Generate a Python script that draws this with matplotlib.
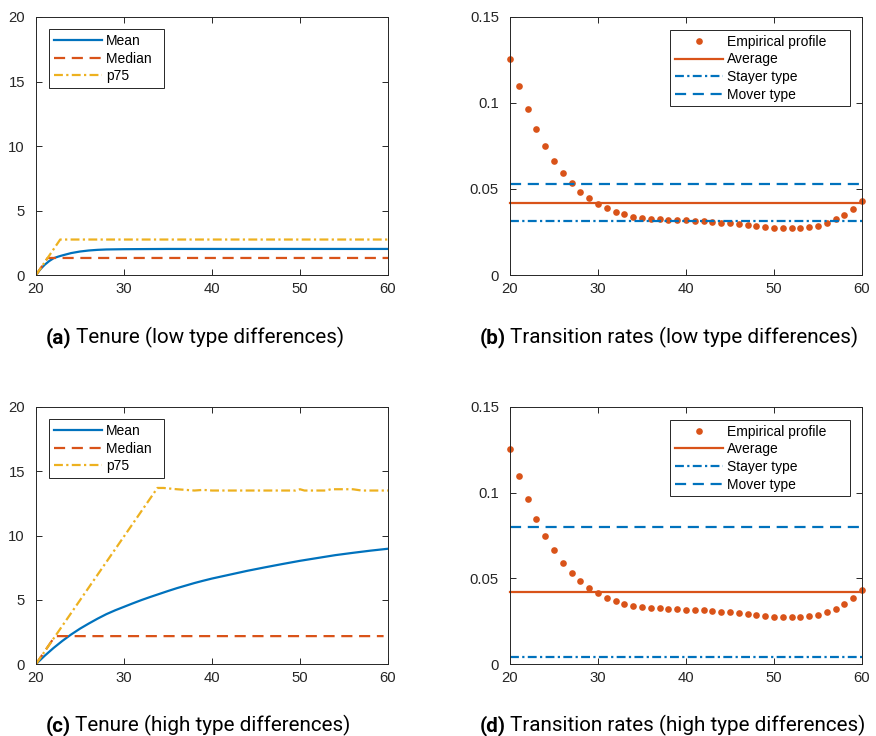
import matplotlib
matplotlib.use("Agg")
import matplotlib.pyplot as plt

# MATLAB default line colours
BLUE = "#0072BD"
ORANGE = "#D95319"
YELLOW = "#EDB120"
AXCOL = "#262626"

plt.rcParams["font.family"] = ["Liberation Sans", "DejaVu Sans"]
plt.rcParams["font.size"] = 10

# ---- tenure, low type differences ----
mean_lo_age = [20, 20.5, 21, 21.5, 22, 22.5, 23, 24, 25, 26, 27, 28, 30, 35, 40, 60]
mean_lo = [0, 0.45, 0.8, 1.08, 1.3, 1.42, 1.52, 1.7, 1.82, 1.9, 1.95, 1.98, 2.0, 2.02, 2.02, 2.02]
median_lo_age = [20, 21.32, 60]
median_lo = [0, 1.32, 1.32]
p75_lo_age = [20, 22.75, 60]
p75_lo = [0, 2.75, 2.75]

# ---- tenure, high type differences ----
mean_hi_age = [20, 21, 22, 23, 24, 25, 26, 27, 28, 29, 30, 31, 32, 33, 34, 35, 36, 37, 38, 39,
               40, 42, 44, 46, 48, 50, 52, 54, 56, 58, 60]
mean_hi = [0, 0.65, 1.25, 1.8, 2.3, 2.75, 3.15, 3.53, 3.88, 4.18, 4.45, 4.72, 4.98, 5.22, 5.45,
           5.68, 5.9, 6.1, 6.3, 6.48, 6.65, 6.95, 7.25, 7.52, 7.78, 8.03, 8.25, 8.47, 8.65, 8.82,
           8.97]
median_hi_age = [20, 22.17, 59.5]
median_hi = [0, 2.17, 2.17]
p75_hi_age = [20, 33.8, 34.5, 36, 38, 39, 40, 45, 49.5, 50, 50.5, 52, 53, 53.5, 56, 57, 58, 60]
p75_hi = [0, 13.7, 13.7, 13.6, 13.5, 13.55, 13.5, 13.5, 13.5, 13.6, 13.5, 13.5, 13.5, 13.6,
          13.6, 13.5, 13.5, 13.5]

# ---- transition rates by age ----
ages = list(range(20, 61))
empirical = [0.1255, 0.1098, 0.0965, 0.0849, 0.0750, 0.0663, 0.0592, 0.0534, 0.0483, 0.0445,
             0.0412, 0.0387, 0.0367, 0.0352, 0.0340, 0.0332, 0.0327, 0.0325, 0.0321, 0.0319,
             0.0317, 0.0315, 0.0313, 0.0309, 0.0305, 0.0302, 0.0296, 0.0290, 0.0284, 0.0280,
             0.0276, 0.0275, 0.0273, 0.0275, 0.0278, 0.0286, 0.0302, 0.0323, 0.0348, 0.0385,
             0.0429]
average_rate = [0.0419, 0.0421]
stayer_rate = [0.0315, 0.0043]
mover_rate = [0.0528, 0.0802]

captions = [("(a)", "Tenure (low type differences)"),
            ("(b)", "Transition rates (low type differences)"),
            ("(c)", "Tenure (high type differences)"),
            ("(d)", "Transition rates (high type differences)")]

W, H = 876, 736
fig = plt.figure(figsize=(W / 100, H / 100), dpi=100)


def px_axes(left, top, right, bottom):
    return fig.add_axes([left / W, 1 - bottom / H, (right - left) / W, (bottom - top) / H])


def style(ax):
    for s in ax.spines.values():
        s.set_color(AXCOL)
        s.set_linewidth(0.7)
    ax.tick_params(direction="in", top=True, right=True, length=4, width=0.7,
                   color=AXCOL, labelcolor=AXCOL, labelsize=10.7)
    ax.tick_params(axis="x", pad=5)
    ax.tick_params(axis="y", pad=8)
    ax.set_xlim(20, 60)
    ax.set_xticks([20, 30, 40, 50, 60])


DASH = (0, (5, 3))
DASHDOT = (0, (4, 1.5, 1, 1.5))
LW = 1.6
leg_kw = dict(fontsize=10, fancybox=False, framealpha=1, edgecolor=AXCOL,
              handlelength=3.45, handletextpad=0.3, labelspacing=0.26, borderpad=0.35,
              borderaxespad=0)


def tenure_panel(ax, ma, m, da, d, pa, p):
    ax.plot(ma, m, color=BLUE, lw=LW, label="Mean")
    ax.plot(da, d, color=ORANGE, lw=LW, linestyle=DASH, label="Median  ")
    ax.plot(pa, p, color=YELLOW, lw=LW, linestyle=DASHDOT, label="p75")
    style(ax)
    ax.set_ylim(0, 20)
    ax.set_yticks([0, 5, 10, 15, 20])
    leg = ax.legend(loc="upper left", bbox_to_anchor=(0.037, 0.953), **leg_kw)
    leg.get_frame().set_linewidth(0.7)


def rate_panel(ax, avg, stay, move):
    ax.plot(ages, empirical, "o", color=ORANGE, markersize=4.8, markeredgewidth=0,
            label="Empirical profile     ")
    ax.axhline(avg, color=ORANGE, lw=LW, label="Average")
    ax.axhline(stay, color=BLUE, lw=LW, linestyle=DASHDOT, label="Stayer type")
    ax.axhline(move, color=BLUE, lw=LW, linestyle=DASH, label="Mover type")
    style(ax)
    ax.set_ylim(0, 0.15)
    ax.set_yticks([0, 0.05, 0.1, 0.15])
    ax.set_yticklabels(["0", "0.05", "0.1", "0.15"])
    for ln in ax.lines:
        ln.set_clip_on(False)
    leg = ax.legend(loc="upper right", bbox_to_anchor=(0.967, 0.95), **leg_kw)
    leg.get_frame().set_linewidth(0.7)


ax_a = px_axes(36, 17, 388, 275)
ax_b = px_axes(510, 17, 862, 275)
ax_c = px_axes(36, 407, 388, 664)
ax_d = px_axes(510, 407, 862, 664)

tenure_panel(ax_a, mean_lo_age, mean_lo, median_lo_age, median_lo, p75_lo_age, p75_lo)
rate_panel(ax_b, average_rate[0], stayer_rate[0], mover_rate[0])
tenure_panel(ax_c, mean_hi_age, mean_hi, median_hi_age, median_hi, p75_hi_age, p75_hi)
rate_panel(ax_d, average_rate[1], stayer_rate[1], mover_rate[1])

# sub-figure captions: bold label followed by plain text
renderer = fig.canvas.get_renderer()
cap_font = ["Roboto", "DejaVu Sans"]
cap_pos = [(46, 343), (480, 343), (46, 731), (480, 731)]
for (lab, txt), (x, y) in zip(captions, cap_pos):
    t1 = fig.text(x / W, 1 - y / H, lab, fontsize=14.9, fontweight="bold",
                  family=cap_font, color="black", ha="left", va="baseline")
    bb = t1.get_window_extent(renderer)
    fig.text((bb.x1 + 4) / W, 1 - y / H, txt, fontsize=14.9, family=cap_font,
             color="black", ha="left", va="baseline")

fig.savefig("out.png", dpi=100)
